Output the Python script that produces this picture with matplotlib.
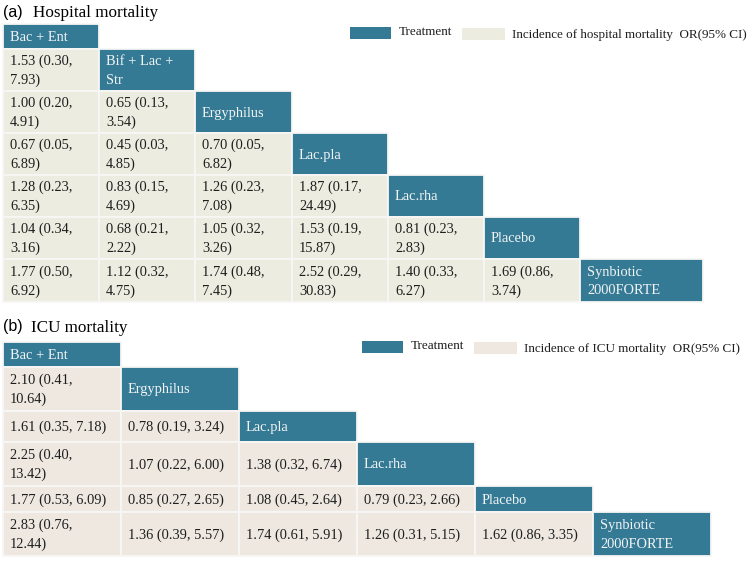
import matplotlib.pyplot as plt
from matplotlib.patches import Rectangle

TEAL = "#347A94"
CELL_A = "#ECECE0"
CELL_B = "#EEE8E1"
EDGE = "#F7F7F5"
SERIF = ["Liberation Serif", "DejaVu Serif"]

# (a) hospital mortality
treat_a = ["Bac + Ent", "Bif + Lac +\nStr", "Ergyphilus", "Lac.pla", "Lac.rha",
           "Placebo", "Synbiotic\n2000FORTE"]
or_a = [
    [],
    [(1.53, 0.30, 7.93)],
    [(1.00, 0.20, 4.91), (0.65, 0.13, 3.54)],
    [(0.67, 0.05, 6.89), (0.45, 0.03, 4.85), (0.70, 0.05, 6.82)],
    [(1.28, 0.23, 6.35), (0.83, 0.15, 4.69), (1.26, 0.23, 7.08), (1.87, 0.17, 24.49)],
    [(1.04, 0.34, 3.16), (0.68, 0.21, 2.22), (1.05, 0.32, 3.26), (1.53, 0.19, 15.87),
     (0.81, 0.23, 2.83)],
    [(1.77, 0.50, 6.92), (1.12, 0.32, 4.75), (1.74, 0.48, 7.45), (2.52, 0.29, 30.83),
     (1.40, 0.33, 6.27), (1.69, 0.86, 3.74)],
]

# (b) ICU mortality
treat_b = ["Bac + Ent", "Ergyphilus", "Lac.pla", "Lac.rha", "Placebo",
           "Synbiotic\n2000FORTE"]
or_b = [
    [],
    [(2.10, 0.41, 10.64)],
    [(1.61, 0.35, 7.18), (0.78, 0.19, 3.24)],
    [(2.25, 0.40, 13.42), (1.07, 0.22, 6.00), (1.38, 0.32, 6.74)],
    [(1.77, 0.53, 6.09), (0.85, 0.27, 2.65), (1.08, 0.45, 2.64), (0.79, 0.23, 2.66)],
    [(2.83, 0.76, 12.44), (1.36, 0.39, 5.57), (1.74, 0.61, 5.91), (1.26, 0.31, 5.15),
     (1.62, 0.86, 3.35)],
]


def fmt(v, max_chars):
    s = f"{v[0]:.2f} ({v[1]:.2f}, {v[2]:.2f})"
    if len(s) > max_chars:
        s = s.replace(", ", ",\n", 1)
    return s


def draw_table(ax, treats, values, x0, y0, col_w, row_h, cell_color, max_chars):
    xs = [x0]
    for w in col_w:
        xs.append(xs[-1] + w)
    ys = [y0]
    for h in row_h:
        ys.append(ys[-1] + h)
    for i, name in enumerate(treats):
        for j in range(i + 1):
            x, y = xs[j], ys[i]
            w, h = col_w[j], row_h[i]
            header = j == i
            ax.add_patch(Rectangle((x, y), w, h, facecolor=TEAL if header else cell_color,
                                   edgecolor=EDGE, lw=1.3))
            txt = name if header else fmt(values[i][j], max_chars)
            ax.text(x + 7, y + h / 2 + 1, txt, ha="left", va="center",
                    fontsize=10.4, family=SERIF, linespacing=1.55,
                    color="#F2F4F5" if header else "#1E1E1E")


def draw_legend(ax, x, y, cell_color, label):
    ax.add_patch(Rectangle((x, y), 41, 12, facecolor=TEAL, edgecolor="none"))
    ax.text(x + 49, y + 5, "Treatment", ha="left", va="center", fontsize=9.45,
            family=SERIF, color="#1E1E1E")
    ax.add_patch(Rectangle((x + 112, y + 1), 43, 12, facecolor=cell_color, edgecolor="none"))
    ax.text(x + 162, y + 8, label, ha="left", va="center", fontsize=9.45,
            family=SERIF, color="#1E1E1E")


fig = plt.figure(figsize=(7.5, 5.62), dpi=100)
ax = fig.add_axes([0, 0, 1, 1])
ax.set_xlim(0, 750)
ax.set_ylim(562, 0)
ax.axis("off")

# panel (a)
ax.text(3, 12, "(a)", ha="left", va="center", fontsize=11.5, family="Liberation Sans")
ax.text(33, 13, "Hospital mortality", ha="left", va="center", fontsize=12.3, family=SERIF)
draw_table(ax, treat_a, or_a, 3, 24, [96, 96, 97, 96, 96, 96, 123],
           [25, 42, 42, 42, 42, 42, 43], CELL_A, 16)
draw_legend(ax, 350, 27, CELL_A, "Incidence of hospital mortality  OR(95% CI)")

# panel (b)
ax.text(3, 327, "(b)", ha="left", va="center", fontsize=11.5, family="Liberation Sans")
ax.text(31, 328, "ICU mortality", ha="left", va="center", fontsize=12.3, family=SERIF)
draw_table(ax, treat_b, or_b, 3, 342, [118, 118, 118, 118, 118, 118],
           [25, 44, 31, 44, 26, 44], CELL_B, 17)
draw_legend(ax, 362, 341, CELL_B, "Incidence of ICU mortality  OR(95% CI)")

fig.savefig("out.png", dpi=100, facecolor="white")
